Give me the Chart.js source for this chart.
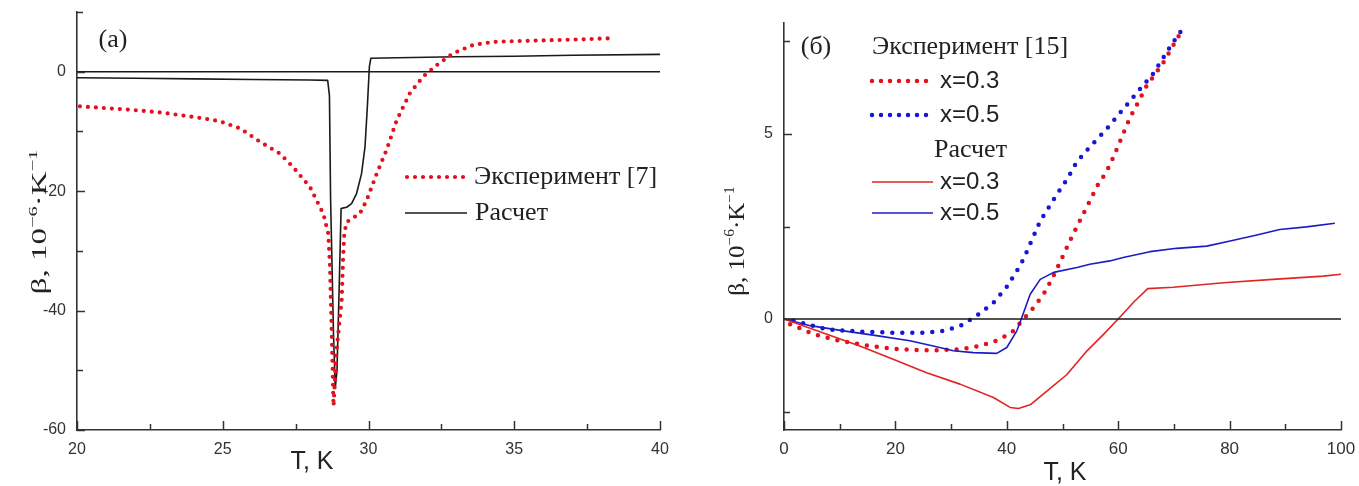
<!DOCTYPE html>
<html><head><meta charset="utf-8">
<script src="https://cdn.jsdelivr.net/npm/chart.js@4.4.1/dist/chart.umd.min.js"></script>
<style>
html,body{margin:0;padding:0;background:#fff;}
#wrap{position:relative;width:1359px;height:486px;overflow:hidden;background:#fff;}
.box{position:absolute;top:0;height:486px;}
#boxA{left:0;width:680px;}
#boxB{left:680px;width:679px;}
</style></head><body>
<div id="wrap"><div class="box" id="boxA"><canvas id="cA"></canvas></div><div class="box" id="boxB"><canvas id="cB"></canvas></div></div>
<script>
// ---------- Panel (a) data ----------
const aExpT = [20.1, 21.0, 21.9, 22.8, 23.6, 24.3, 24.9, 25.6, 26.3, 26.96, 27.42, 27.99, 28.45, 28.62, 28.68, 28.74, 28.8, 28.9, 29.0, 29.08, 29.13, 29.17, 29.25, 29.45, 29.7, 29.94, 30.28, 30.62, 30.97, 31.42, 31.88, 32.34, 32.91, 33.6, 34.3, 35.2, 36.5, 37.5, 38.35];
const aExpB = [-5.8, -6.1, -6.4, -6.8, -7.3, -7.8, -8.3, -9.5, -11.8, -13.7, -16.0, -19.3, -23.8, -27.1, -32.7, -43.9, -56.0, -47.0, -42.0, -38.3, -31.0, -27.1, -25.2, -24.5, -23.8, -21.5, -17.1, -13.1, -8.1, -3.6, -0.8, 1.1, 3.1, 4.5, 5.0, 5.15, 5.3, 5.45, 5.6];
const aCalcT = [20, 22, 24, 26, 28, 28.6, 28.66, 28.7, 28.8, 28.86, 28.92, 29.0, 29.06, 29.15, 29.25, 29.42, 29.59, 29.76, 29.88, 29.96, 30.03, 30.08, 31, 33, 35, 37, 40];
const aCalcB = [-1.0, -1.1, -1.2, -1.3, -1.4, -1.45, -4, -21.5, -44, -53, -50, -35, -22.9, -22.8, -22.7, -22.1, -20.4, -17.1, -12.6, -5.9, 0.84, 2.25, 2.35, 2.5, 2.6, 2.75, 2.9];
const aZeroT = [20, 40];
const aZeroB = [0, 0];
const aXTicks = [20, 22.5, 25, 27.5, 30, 32.5, 35, 37.5, 40];
const aXLabels = [20, 25, 30, 35, 40];
const aYTicks = [-60, -50, -40, -30, -20, -10, 0, 10];
const aYLabels = [-60, -40, -20, 0];

// ---------- Panel (b) data ----------
const bExp03T = [1.1, 5.3, 10.05, 15.4, 20.8, 26.2, 31.6, 35.2, 38.8, 41.2, 43.0, 44.8, 46.6, 48.0, 49.6, 51.3, 53.1, 54.9, 56.4, 57.8, 59.1, 60.6, 62.1, 63.7, 65.1, 66.6, 68.1, 69.9, 71.7];
const bExp03B = [-0.14, -0.41, -0.59, -0.73, -0.82, -0.85, -0.82, -0.73, -0.55, -0.32, 0, 0.31, 0.67, 1.05, 1.55, 2.1, 2.65, 3.19, 3.64, 3.95, 4.36, 4.9, 5.44, 5.89, 6.3, 6.61, 6.93, 7.4, 7.87];
const bExp05T = [1.7, 7.7, 13.6, 19.6, 25.6, 28.6, 31.6, 34.6, 37.6, 40, 41.8, 43, 46, 49, 50.8, 52.5, 54.9, 57.6, 60.0, 62.4, 64.6, 66.0, 67.8, 69.6, 71.7];
const bExp05B = [-0.05, -0.28, -0.34, -0.37, -0.37, -0.32, -0.19, 0.09, 0.44, 0.87, 1.3, 1.62, 2.65, 3.37, 3.77, 4.23, 4.65, 5.08, 5.51, 5.94, 6.34, 6.57, 6.99, 7.42, 7.87];
const bCalc03T = [0, 7.7, 13.6, 19.6, 25.6, 31.6, 37.6, 40.6, 42.1, 44.2, 47.2, 50.8, 54.4, 57.4, 60, 62.8, 65.3, 69.9, 78.9, 87.8, 96.8, 100];
const bCalc03B = [0, -0.41, -0.73, -1.09, -1.45, -1.76, -2.12, -2.39, -2.42, -2.32, -1.95, -1.5, -0.86, -0.41, 0, 0.46, 0.82, 0.86, 0.98, 1.07, 1.16, 1.21];
const bCalc05T = [0, 4.7, 10.7, 16.6, 22.6, 26.8, 30.4, 34, 38.2, 40, 41.8, 42.7, 44.2, 46, 48.4, 52.6, 54.9, 58.5, 60.9, 65.7, 70.5, 75.9, 80.1, 84.9, 89, 93.8, 98.9];
const bCalc05B = [0, -0.18, -0.32, -0.45, -0.59, -0.73, -0.86, -0.91, -0.93, -0.77, -0.32, 0.04, 0.67, 1.07, 1.26, 1.39, 1.48, 1.57, 1.66, 1.82, 1.91, 1.97, 2.11, 2.27, 2.42, 2.49, 2.59];
const bZeroT = [0, 100];
const bZeroB = [0, 0];
const bXTicks = [0, 10, 20, 30, 40, 50, 60, 70, 80, 90, 100];
const bXLabels = [0, 20, 40, 60, 80, 100];
const bYTicks = [-2.5, 0, 2.5, 5, 7.5];
const bYLabels = [0, 5];

// ---------- colours / fonts ----------
const RED_DOT = '#e2111d', BLUE_DOT = '#1616d8', RED_LINE = '#e02424', BLUE_LINE = '#1c1cc4', BLACK = '#1a1a1a', AXIS = '#333333';
const SERIF = '"Liberation Serif", "Times New Roman", serif';
const SANS = '"Liberation Sans", Arial, sans-serif';

Chart.defaults.animation = false;
Chart.defaults.font.family = SANS;

function pts(xs, ys) { return xs.map((x, i) => ({x: x, y: ys[i]})); }
function dotted(label, xs, ys, color, w, gap) {
  return {label, data: pts(xs, ys), borderColor: color, borderWidth: w, borderDash: [0, gap], borderCapStyle: 'round', pointRadius: 0, tension: 0, fill: false};
}
function solid(label, xs, ys, color, w) {
  return {label, data: pts(xs, ys), borderColor: color, borderWidth: w, pointRadius: 0, tension: 0, fill: false, borderJoinStyle: 'round'};
}

function axis(min, max, tickVals, labelVals, isX, size, pad, fitSize) {
  return {
    type: 'linear', min, max,
    afterBuildTicks: s => { s.ticks = tickVals.map(v => ({value: v})); },
    afterFit: s => {
      if (isX) { s.height = fitSize; s.paddingLeft = 0; s.paddingRight = 0; }
      else { s.width = fitSize; s.paddingTop = 0; s.paddingBottom = 0; }
    },
    ticks: {autoSkip: false, maxRotation: 0, padding: pad, color: '#333', font: {family: SANS, size: size},
      callback: v => labelVals.includes(v) ? String(v) : ''},
    grid: {display: true, drawOnChartArea: false, drawTicks: false},
    border: {display: true, color: AXIS, width: 1.6}
  };
}

// inward tick marks
const inwardTicks = {
  id: 'inwardTicks',
  afterDatasetsDraw(chart, args, o) {
    const ctx = chart.ctx, ca = chart.chartArea;
    ctx.save(); ctx.strokeStyle = AXIS; ctx.lineWidth = 1.5;
    const xs = chart.scales.x, ys = chart.scales.y;
    xs.ticks.forEach(t => {
      const p = Math.round(xs.getPixelForValue(t.value)) + 0.5;
      const len = o.xMajor.includes(t.value) ? 9 : 6;
      ctx.beginPath(); ctx.moveTo(p, ca.bottom); ctx.lineTo(p, ca.bottom - len); ctx.stroke();
    });
    ys.ticks.forEach(t => {
      const p = Math.round(ys.getPixelForValue(t.value)) + 0.5;
      const len = o.yMajor.includes(t.value) ? 8 : 6;
      ctx.beginPath(); ctx.moveTo(ca.left, p); ctx.lineTo(ca.left + len, p); ctx.stroke();
    });
    ctx.restore();
  }
};

function drawYTitle(ctx, cx, cy, size, squeeze) {
  ctx.save();
  ctx.translate(cx, cy); ctx.rotate(-Math.PI / 2); ctx.scale(1, squeeze);
  const parts = [['β, 10', 1, 0], ['−6', 0.62, -0.45], ['·K', 1, 0], ['−1', 0.62, -0.45]];
  let total = 0;
  parts.forEach(p => { ctx.font = (size * p[1]) + 'px ' + SERIF; total += ctx.measureText(p[0]).width; });
  let x = -total / 2;
  ctx.fillStyle = '#222'; ctx.textBaseline = 'alphabetic'; ctx.textAlign = 'left';
  parts.forEach(p => {
    ctx.font = (size * p[1]) + 'px ' + SERIF;
    ctx.fillText(p[0], x, size * 0.33 + p[2] * size);
    x += ctx.measureText(p[0]).width;
  });
  ctx.restore();
}

const decor = {
  id: 'decor',
  afterDraw(chart, args, o) {
    const ctx = chart.ctx;
    ctx.save();
    (o.texts || []).forEach(t => {
      ctx.font = t.size + 'px ' + (t.serif ? SERIF : SANS);
      ctx.fillStyle = t.color || '#222';
      ctx.textAlign = t.align || 'left';
      ctx.textBaseline = 'middle';
      ctx.fillText(t.text, t.x, t.y);
    });
    (o.samples || []).forEach(s => {
      ctx.beginPath();
      ctx.strokeStyle = s.color; ctx.lineWidth = s.w;
      if (s.dot) { ctx.setLineDash([0, s.dot]); ctx.lineCap = 'round'; } else { ctx.setLineDash([]); ctx.lineCap = 'butt'; }
      ctx.moveTo(s.x1, s.y); ctx.lineTo(s.x2, s.y); ctx.stroke();
    });
    ctx.setLineDash([]);
    if (o.yTitle) drawYTitle(ctx, o.yTitle.x, o.yTitle.y, o.yTitle.size, o.yTitle.squeeze);
    ctx.restore();
  }
};

// ---------- Chart (a) ----------
new Chart(document.getElementById('cA'), {
  type: 'line',
  data: {datasets: [
    solid('zero', aZeroT, aZeroB, BLACK, 1.6),
    dotted('Эксперимент [7]', aExpT, aExpB, RED_DOT, 4.2, 8),
    solid('Расчет', aCalcT, aCalcB, BLACK, 1.6)
  ]},
  options: {
    responsive: true, maintainAspectRatio: false, devicePixelRatio: 1,
    layout: {padding: {left: 0, right: 20, top: 12, bottom: 0}},
    scales: {
      x: axis(20, 40, aXTicks, aXLabels, true, 16, 10, 56),
      y: axis(-60, 10, aYTicks, aYLabels, false, 16, 11, 77)
    },
    plugins: {
      legend: {display: false}, tooltip: {enabled: false},
      inwardTicks: {xMajor: aXLabels, yMajor: aYLabels},
      decor: {
        texts: [
          {text: '(a)', x: 113, y: 40, size: 26, serif: true, align: 'center'},
          {text: 'Эксперимент [7]', x: 474, y: 177, size: 26, serif: true},
          {text: 'Расчет', x: 475, y: 213, size: 26, serif: true},
          {text: 'T, K', x: 312, y: 462, size: 25, align: 'center', color: '#222'}
        ],
        samples: [
          {x1: 407, x2: 467, y: 177, color: RED_DOT, w: 4.2, dot: 8},
          {x1: 405, x2: 467, y: 213, color: BLACK, w: 1.6}
        ],
        yTitle: {x: 39, y: 222, size: 33, squeeze: 0.62}
      }
    }
  },
  plugins: [inwardTicks, decor]
});

// ---------- Chart (b) ----------
new Chart(document.getElementById('cB'), {
  type: 'line',
  data: {datasets: [
    solid('zero', bZeroT, bZeroB, BLACK, 1.6),
    solid('Расчет x=0.3', bCalc03T, bCalc03B, RED_LINE, 1.6),
    solid('Расчет x=0.5', bCalc05T, bCalc05B, BLUE_LINE, 1.6),
    dotted('Эксперимент x=0.3', bExp03T, bExp03B, RED_DOT, 4.5, 10),
    dotted('Эксперимент x=0.5', bExp05T, bExp05B, BLUE_DOT, 4.5, 10)
  ]},
  options: {
    responsive: true, maintainAspectRatio: false, devicePixelRatio: 1,
    layout: {padding: {left: 0, right: 18, top: 23, bottom: 0}},
    scales: {
      x: axis(0, 100, bXTicks, bXLabels, true, 17, 9, 56),
      y: axis(-3, 8, bYTicks, bYLabels, false, 16, 11, 104)
    },
    plugins: {
      legend: {display: false}, tooltip: {enabled: false},
      inwardTicks: {xMajor: bXLabels, yMajor: bYLabels},
      decor: {
        texts: [
          {text: '(б)', x: 136, y: 47, size: 26, serif: true, align: 'center'},
          {text: 'Эксперимент [15]', x: 192, y: 47, size: 26, serif: true},
          {text: 'x=0.3', x: 260, y: 81, size: 24},
          {text: 'x=0.5', x: 260, y: 115, size: 24},
          {text: 'Расчет', x: 254, y: 150, size: 26, serif: true},
          {text: 'x=0.3', x: 260, y: 182, size: 24},
          {text: 'x=0.5', x: 260, y: 213, size: 24},
          {text: 'T, K', x: 385, y: 473, size: 25, align: 'center', color: '#222'}
        ],
        samples: [
          {x1: 192, x2: 252, y: 81, color: RED_DOT, w: 4.5, dot: 9},
          {x1: 192, x2: 252, y: 115, color: BLUE_DOT, w: 4.5, dot: 9},
          {x1: 192, x2: 253, y: 182, color: RED_LINE, w: 1.6},
          {x1: 192, x2: 253, y: 213, color: BLUE_LINE, w: 1.6}
        ],
        yTitle: {x: 57, y: 241, size: 25, squeeze: 0.9}
      }
    }
  },
  plugins: [inwardTicks, decor]
});
</script>
</body></html>
